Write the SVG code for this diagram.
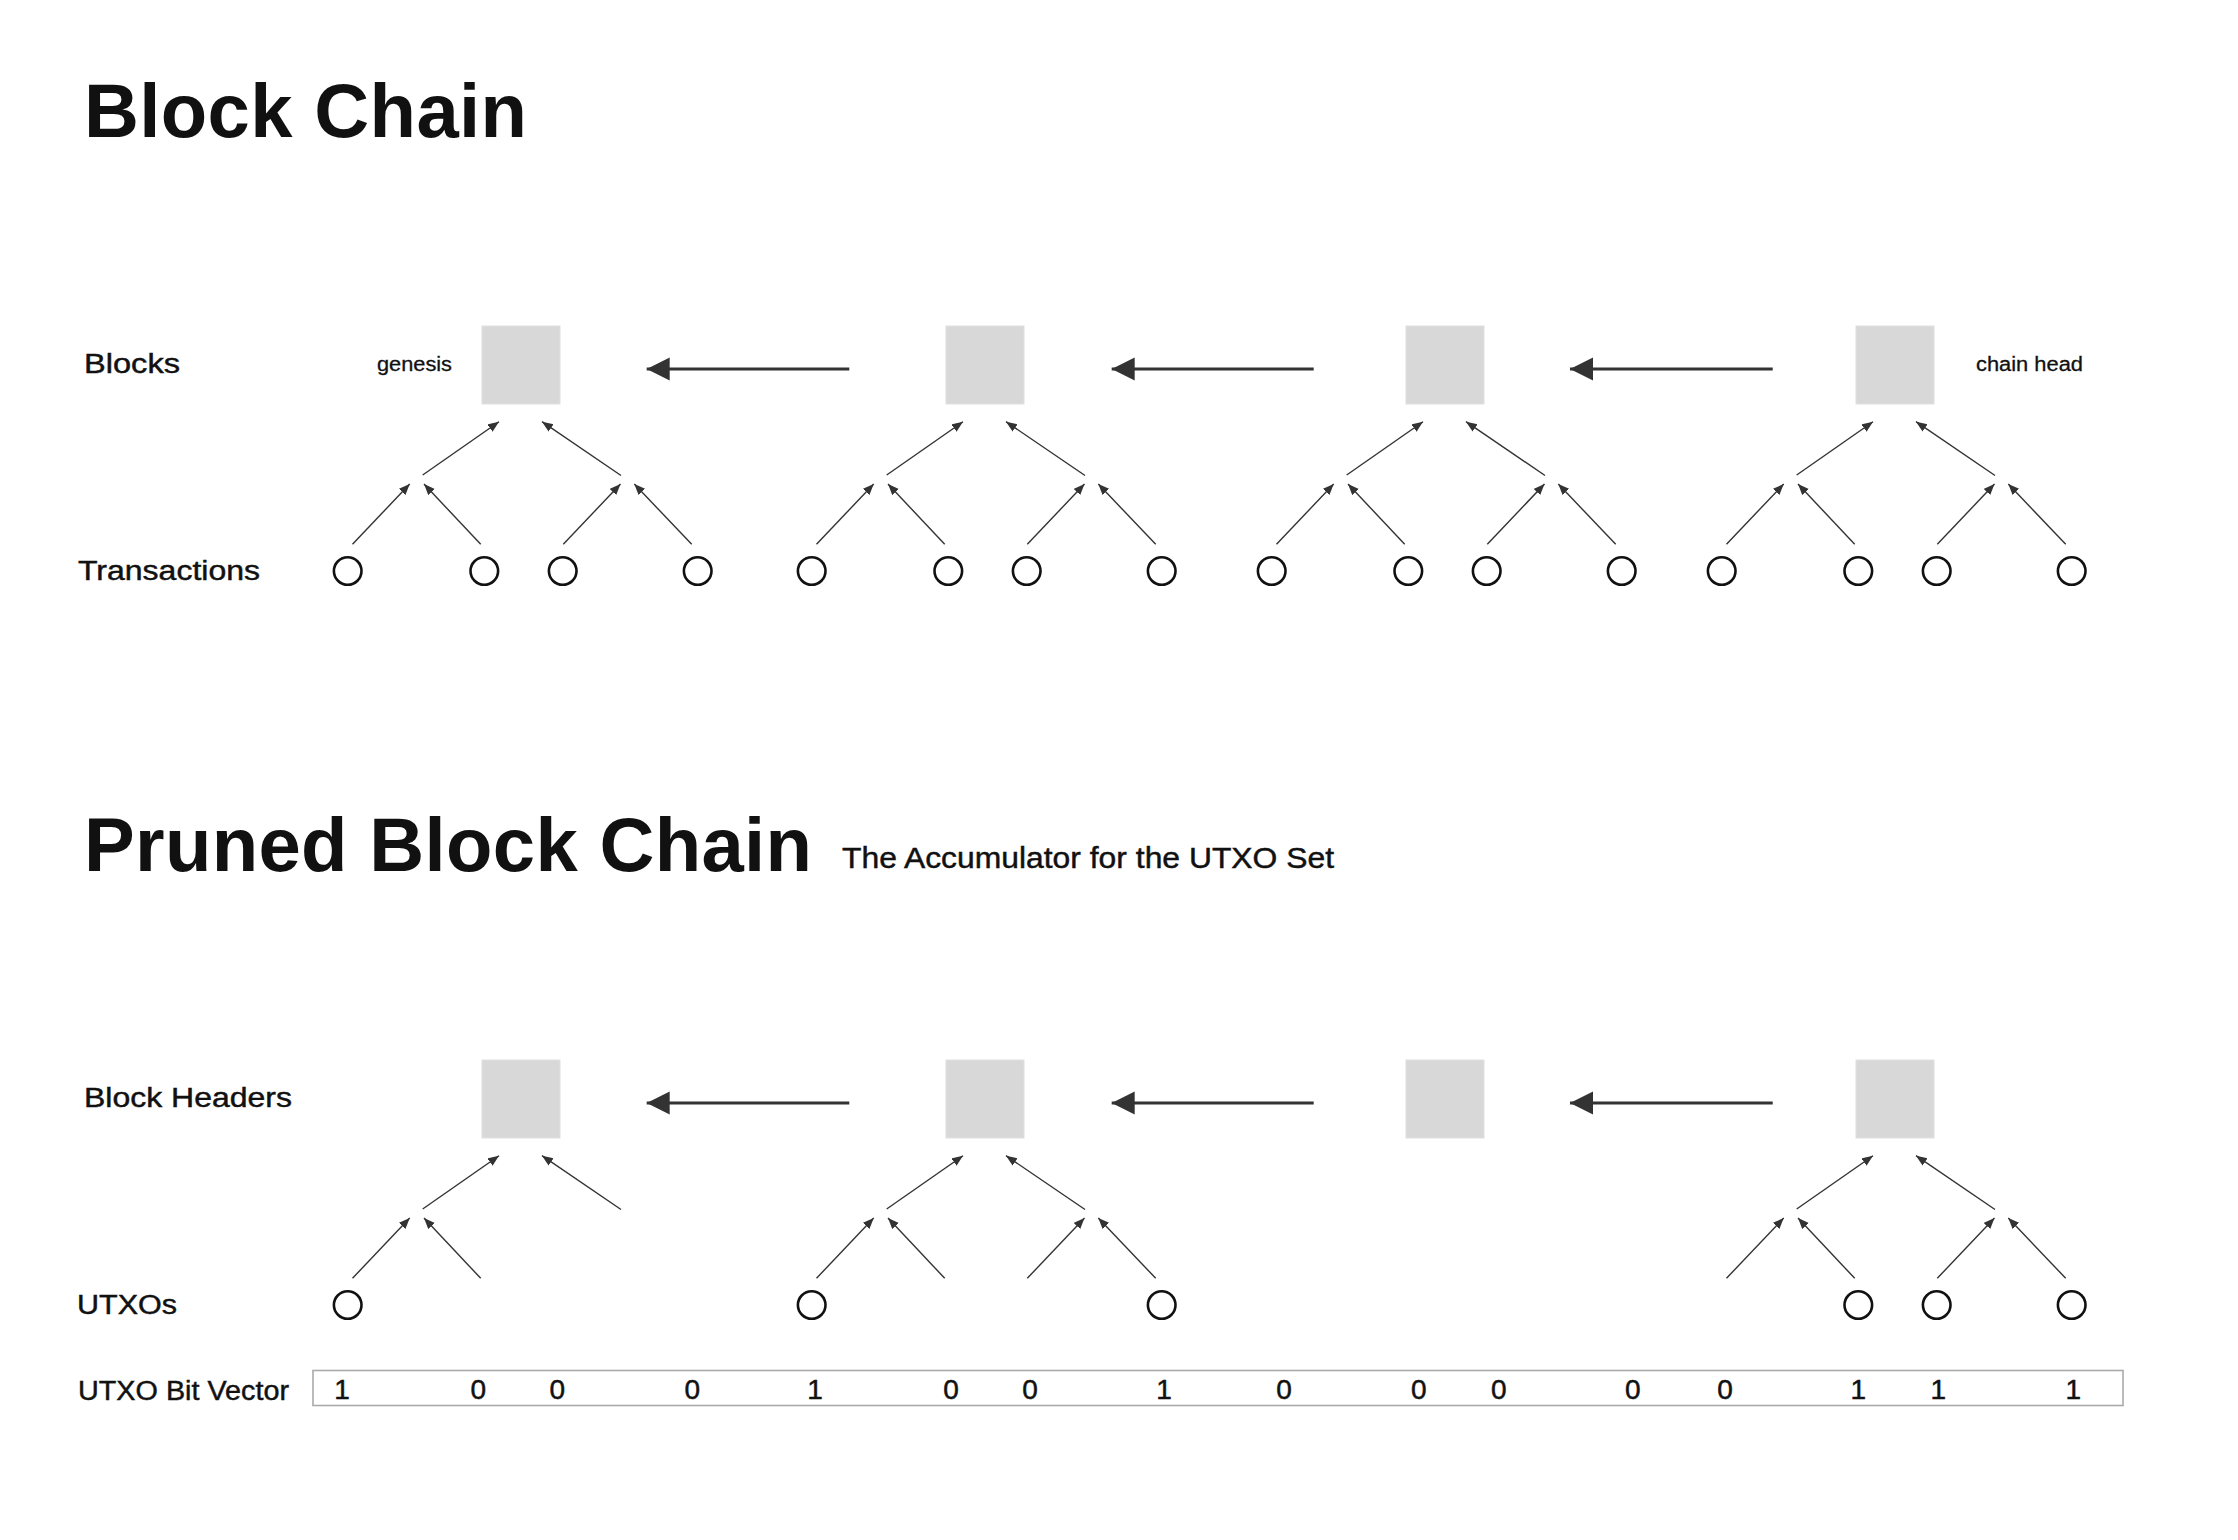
<svg xmlns="http://www.w3.org/2000/svg" width="2238" height="1540" viewBox="0 0 2238 1540">
<defs>
<style>
.title{font-family:"Liberation Sans",Arial,sans-serif;font-weight:bold;font-size:76px;fill:#111}
.lbl{font-family:"Liberation Sans",Arial,sans-serif;font-size:27px;fill:#111;stroke:#111;stroke-width:0.45}
.small{font-family:"Liberation Sans",Arial,sans-serif;font-size:20px;fill:#111;stroke:#111;stroke-width:0.3}
.sub{font-family:"Liberation Sans",Arial,sans-serif;font-size:29px;fill:#111;stroke:#111;stroke-width:0.45}
.bit{font-family:"Liberation Sans",Arial,sans-serif;font-size:28px;fill:#111;stroke:#111;stroke-width:0.5;text-anchor:middle}
.blk{fill:#d8d8d8;stroke:#e0e0e0;stroke-width:1}
.tx{fill:#fff;stroke:#111;stroke-width:2.6}
.thin{stroke:#333;stroke-width:1.4;fill:none;marker-end:url(#ah)}
.thick{stroke:#333;stroke-width:3.2;fill:none;marker-end:url(#ahb)}
.vec{fill:none;stroke:#aaa;stroke-width:1.6}
</style>
<marker id="ah" markerUnits="userSpaceOnUse" markerWidth="12" markerHeight="10" refX="11" refY="4.5" orient="auto"><path d="M0,0 L11,4.5 L0,9 z" fill="#333"/></marker>
<marker id="ahb" markerUnits="userSpaceOnUse" markerWidth="24" markerHeight="24" refX="23" refY="11.5" orient="auto"><path d="M0,0 L23,11.5 L0,23 z" fill="#333"/></marker>
</defs>
<rect width="2238" height="1540" fill="#fff"/>

<g id="titles">
<text class="title" x="84" y="137" textLength="443" lengthAdjust="spacing">Block Chain</text>
<text class="title" x="84" y="871" textLength="728" lengthAdjust="spacing">Pruned Block Chain</text>
<text class="sub" x="842" y="868" textLength="492" lengthAdjust="spacingAndGlyphs">The Accumulator for the UTXO Set</text>
</g>

<g id="row-labels">
<text class="lbl" x="84" y="373" textLength="96" lengthAdjust="spacingAndGlyphs">Blocks</text>
<text class="lbl" x="78" y="579.5" textLength="182" lengthAdjust="spacingAndGlyphs">Transactions</text>
<text class="lbl" x="84" y="1107" textLength="208" lengthAdjust="spacingAndGlyphs">Block Headers</text>
<text class="lbl" x="77" y="1313.5" textLength="100" lengthAdjust="spacingAndGlyphs">UTXOs</text>
<text class="lbl" x="78" y="1400" font-size="26" textLength="211" lengthAdjust="spacingAndGlyphs">UTXO Bit Vector</text>
</g>

<g id="block-1">
<rect class="blk" x="482" y="326" width="78" height="78"/>
<text class="small" x="377" y="371" textLength="75" lengthAdjust="spacingAndGlyphs">genesis</text>
</g>
<g id="block-2"><rect class="blk" x="946" y="326" width="78" height="78"/></g>
<g id="block-3"><rect class="blk" x="1406" y="326" width="78" height="78"/></g>
<g id="block-4">
<rect class="blk" x="1856" y="326" width="78" height="78"/>
<text class="small" x="1976" y="371" textLength="107" lengthAdjust="spacingAndGlyphs">chain head</text>
</g>

<g id="transactions">
<circle class="tx" cx="347.7" cy="571" r="13.8"/>
<circle class="tx" cx="484.3" cy="571" r="13.8"/>
<circle class="tx" cx="562.7" cy="571" r="13.8"/>
<circle class="tx" cx="697.7" cy="571" r="13.8"/>
<circle class="tx" cx="811.7" cy="571" r="13.8"/>
<circle class="tx" cx="948.3" cy="571" r="13.8"/>
<circle class="tx" cx="1026.7" cy="571" r="13.8"/>
<circle class="tx" cx="1161.7" cy="571" r="13.8"/>
<circle class="tx" cx="1271.7" cy="571" r="13.8"/>
<circle class="tx" cx="1408.3" cy="571" r="13.8"/>
<circle class="tx" cx="1486.7" cy="571" r="13.8"/>
<circle class="tx" cx="1621.7" cy="571" r="13.8"/>
<circle class="tx" cx="1721.7" cy="571" r="13.8"/>
<circle class="tx" cx="1858.3" cy="571" r="13.8"/>
<circle class="tx" cx="1936.7" cy="571" r="13.8"/>
<circle class="tx" cx="2071.7" cy="571" r="13.8"/>
</g>

<g id="header-1"><rect class="blk" x="482" y="1060" width="78" height="78"/></g>
<g id="header-2"><rect class="blk" x="946" y="1060" width="78" height="78"/></g>
<g id="header-3"><rect class="blk" x="1406" y="1060" width="78" height="78"/></g>
<g id="header-4"><rect class="blk" x="1856" y="1060" width="78" height="78"/></g>

<g id="utxos">
<circle class="tx" cx="347.7" cy="1305" r="13.8"/>
<circle class="tx" cx="811.7" cy="1305" r="13.8"/>
<circle class="tx" cx="1161.7" cy="1305" r="13.8"/>
<circle class="tx" cx="1858.3" cy="1305" r="13.8"/>
<circle class="tx" cx="1936.7" cy="1305" r="13.8"/>
<circle class="tx" cx="2071.7" cy="1305" r="13.8"/>
</g>

<g id="bit-vector">
<rect class="vec" x="313" y="1370.5" width="1810" height="35"/>
<text class="bit" x="342" y="1398.5">1</text>
<text class="bit" x="478.4" y="1398.5">0</text>
<text class="bit" x="557.2" y="1398.5">0</text>
<text class="bit" x="692.3" y="1398.5">0</text>
<text class="bit" x="815" y="1398.5">1</text>
<text class="bit" x="951" y="1398.5">0</text>
<text class="bit" x="1030" y="1398.5">0</text>
<text class="bit" x="1164" y="1398.5">1</text>
<text class="bit" x="1284" y="1398.5">0</text>
<text class="bit" x="1418.7" y="1398.5">0</text>
<text class="bit" x="1498.7" y="1398.5">0</text>
<text class="bit" x="1632.7" y="1398.5">0</text>
<text class="bit" x="1725" y="1398.5">0</text>
<text class="bit" x="1858.3" y="1398.5">1</text>
<text class="bit" x="1938.3" y="1398.5">1</text>
<text class="bit" x="2073.3" y="1398.5">1</text>
</g>

<g id="connectors">
<line class="thick" x1="849.3" y1="369" x2="646.7" y2="369"/>
<line class="thick" x1="1313.7" y1="369" x2="1111.7" y2="369"/>
<line class="thick" x1="1772.7" y1="369" x2="1570" y2="369"/>
<line class="thick" x1="849.3" y1="1103" x2="646.7" y2="1103"/>
<line class="thick" x1="1313.7" y1="1103" x2="1111.7" y2="1103"/>
<line class="thick" x1="1772.7" y1="1103" x2="1570" y2="1103"/>

<line class="thin" x1="422.7" y1="475" x2="499" y2="421.7"/>
<line class="thin" x1="621" y1="475.5" x2="542" y2="421.7"/>
<line class="thin" x1="352.5" y1="544.3" x2="409.7" y2="484"/>
<line class="thin" x1="480.7" y1="544.3" x2="424" y2="484"/>
<line class="thin" x1="563.3" y1="544.3" x2="620.5" y2="484"/>
<line class="thin" x1="691.7" y1="544.3" x2="634.3" y2="484"/>

<line class="thin" x1="886.7" y1="475" x2="963" y2="421.7"/>
<line class="thin" x1="1085" y1="475.5" x2="1006" y2="421.7"/>
<line class="thin" x1="816.5" y1="544.3" x2="873.7" y2="484"/>
<line class="thin" x1="944.7" y1="544.3" x2="888" y2="484"/>
<line class="thin" x1="1027.3" y1="544.3" x2="1084.5" y2="484"/>
<line class="thin" x1="1155.7" y1="544.3" x2="1098.3" y2="484"/>

<line class="thin" x1="1346.7" y1="475" x2="1423" y2="421.7"/>
<line class="thin" x1="1545" y1="475.5" x2="1466" y2="421.7"/>
<line class="thin" x1="1276.5" y1="544.3" x2="1333.7" y2="484"/>
<line class="thin" x1="1404.7" y1="544.3" x2="1348" y2="484"/>
<line class="thin" x1="1487.3" y1="544.3" x2="1544.5" y2="484"/>
<line class="thin" x1="1615.7" y1="544.3" x2="1558.3" y2="484"/>

<line class="thin" x1="1796.7" y1="475" x2="1873" y2="421.7"/>
<line class="thin" x1="1995" y1="475.5" x2="1916" y2="421.7"/>
<line class="thin" x1="1726.5" y1="544.3" x2="1783.7" y2="484"/>
<line class="thin" x1="1854.7" y1="544.3" x2="1798" y2="484"/>
<line class="thin" x1="1937.3" y1="544.3" x2="1994.5" y2="484"/>
<line class="thin" x1="2065.7" y1="544.3" x2="2008.3" y2="484"/>

<line class="thin" x1="422.7" y1="1209" x2="499" y2="1155.7"/>
<line class="thin" x1="621" y1="1209.5" x2="542" y2="1155.7"/>
<line class="thin" x1="352.5" y1="1278.3" x2="409.7" y2="1218"/>
<line class="thin" x1="480.7" y1="1278.3" x2="424" y2="1218"/>

<line class="thin" x1="886.7" y1="1209" x2="963" y2="1155.7"/>
<line class="thin" x1="1085" y1="1209.5" x2="1006" y2="1155.7"/>
<line class="thin" x1="816.5" y1="1278.3" x2="873.7" y2="1218"/>
<line class="thin" x1="944.7" y1="1278.3" x2="888" y2="1218"/>
<line class="thin" x1="1027.3" y1="1278.3" x2="1084.5" y2="1218"/>
<line class="thin" x1="1155.7" y1="1278.3" x2="1098.3" y2="1218"/>

<line class="thin" x1="1796.7" y1="1209" x2="1873" y2="1155.7"/>
<line class="thin" x1="1995" y1="1209.5" x2="1916" y2="1155.7"/>
<line class="thin" x1="1726.5" y1="1278.3" x2="1783.7" y2="1218"/>
<line class="thin" x1="1854.7" y1="1278.3" x2="1798" y2="1218"/>
<line class="thin" x1="1937.3" y1="1278.3" x2="1994.5" y2="1218"/>
<line class="thin" x1="2065.7" y1="1278.3" x2="2008.3" y2="1218"/>
</g>
</svg>
